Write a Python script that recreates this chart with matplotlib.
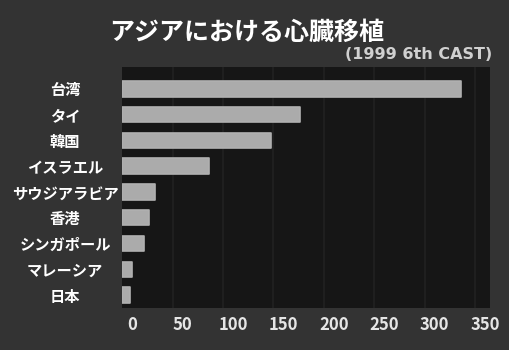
import matplotlib
matplotlib.use("Agg")
import matplotlib.pyplot as plt
import matplotlib.transforms as mtransforms

plt.rcParams['font.family'] = ['Noto Sans CJK JP', 'DejaVu Sans']

countries = ["台湾", "タイ", "韓国", "イスラエル", "サウジアラビア",
             "香港", "シンガポール", "マレーシア", "日本"]
transplants = [336, 176, 148, 86, 33, 27, 22, 10, 8]
ticks = [0, 50, 100, 150, 200, 250, 300, 350]

fig = plt.figure(figsize=(5.09, 3.5), dpi=100)
fig.patch.set_facecolor("#333333")
ax = fig.add_axes([0.240, 0.12, 0.723, 0.689])
ax.set_facecolor("#161616")

# faint column bands behind the bars
for t in ticks[1:]:
    ax.axvline(t, color="#222222", lw=1.2, zorder=0)

ypos = list(range(len(countries)))
ax.barh(ypos, transplants, height=0.6, color="#ababab",
        edgecolor="#b0b0b0", linewidth=1.2, joinstyle="round", zorder=2)

ax.set_xlim(0, 365)
ax.set_ylim(len(countries) - 0.5, -0.85)
ax.set_yticks(ypos)
ax.set_yticklabels(countries, fontsize=11, fontweight="bold", color="white", ha="center")
ax.set_xticks(ticks)
ax.set_xticklabels([str(t) for t in ticks], fontsize=12, fontweight="bold", color="#e6e6e6")
ax.tick_params(axis="y", length=0, pad=41)
ax.tick_params(axis="x", length=0, pad=6)

shift = mtransforms.ScaledTranslation(10 / 100, 0, fig.dpi_scale_trans)
for lbl in ax.get_xticklabels():
    lbl.set_transform(lbl.get_transform() + shift)

for s in ax.spines.values():
    s.set_visible(False)

fig.text(0.485, 0.905, "アジアにおける心臓移植", fontsize=18, fontweight="bold",
         color="white", ha="center", va="center")
fig.text(0.967, 0.843, "(1999 6th CAST)", fontsize=11.5, fontweight="bold",
         family="DejaVu Sans", color="#d0d0d0", ha="right", va="center")

fig.savefig("out.png", dpi=100, facecolor=fig.get_facecolor())
